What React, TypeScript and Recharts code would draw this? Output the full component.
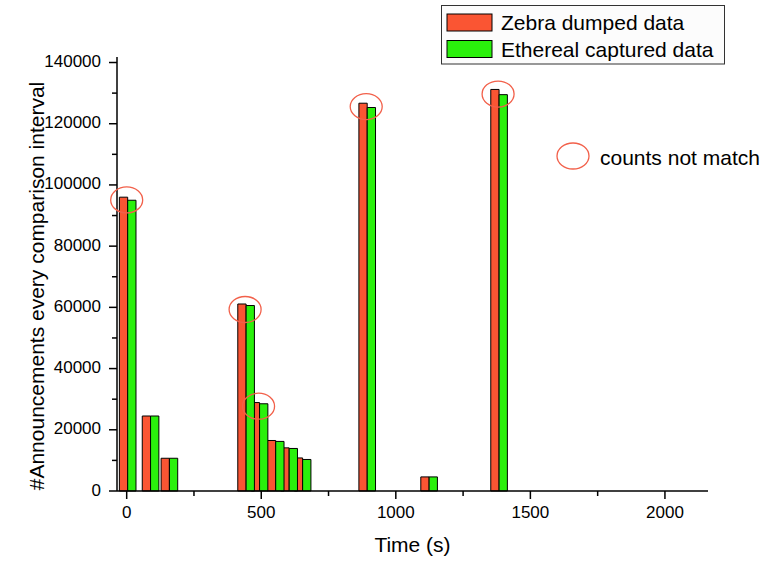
import React from 'react';
import { ComposedChart, Bar, Scatter, XAxis, YAxis, Legend } from 'recharts';

// ---- data ----
const times = [0, 85, 155, 440, 490, 550, 600, 650, 890, 1120, 1380];
const zebraCounts = [96000, 24500, 10700, 61100, 28900, 16500, 14100, 10800, 126700, 4600, 131200];
const etherealCounts = [95000, 24500, 10700, 60600, 28500, 16200, 13900, 10300, 125300, 4600, 129500];
const mismatchTimes = [0, 440, 490, 890, 1380];
const mismatchCounts = [95100, 59300, 27700, 125600, 129700];
const xTicks = [0, 250, 500, 750, 1000, 1250, 1500, 1750, 2000];
const yTicks = [0, 10000, 20000, 30000, 40000, 50000, 60000, 70000, 80000, 90000, 100000, 110000, 120000, 130000, 140000];
const seriesNames = ['Zebra dumped data', 'Ethereal captured data'];
const markerName = 'counts not match';

const data = times.map((t, i) => ({ t, zebra: zebraCounts[i], ethereal: etherealCounts[i] }));
const mismatch = mismatchTimes.map((t, i) => ({ t, v: mismatchCounts[i] }));

// ---- style ----
const FONT = '"Liberation Sans", Arial, Helvetica, sans-serif';
const RED = '#FA5533';
const GREEN = '#2AF00C';
const RING = '#F2604A';
const X_DOMAIN: [number, number] = [-36, 2160];
const Y_DOMAIN: [number, number] = [0, 141800];
const RED_SHIFT = 13.3;
const GREEN_SHIFT = -17.6;

const XTick = (props: any) => {
  const { x, y, payload } = props;
  const major = payload.value % 500 === 0;
  return (
    <g>
      <line x1={x} x2={x} y1={y} y2={y + (major ? 8 : 5)} stroke="#000" strokeWidth={1.5} />
      {major && (
        <text x={x} y={y + 27} textAnchor="middle" fontSize={17} fontFamily={FONT} fill="#000">
          {payload.value}
        </text>
      )}
    </g>
  );
};

const YTick = (props: any) => {
  const { x, y, payload } = props;
  const major = payload.value % 20000 === 0;
  return (
    <g>
      <line x1={x} x2={x - (major ? 8 : 5)} y1={y} y2={y} stroke="#000" strokeWidth={1.5} />
      {major && (
        <text x={x - 16} y={y + 4.5} textAnchor="end" fontSize={17} fontFamily={FONT} fill="#000">
          {payload.value}
        </text>
      )}
    </g>
  );
};

const Ring = (props: any) => {
  const { cx, cy } = props;
  if (cx == null || cy == null) return null;
  return <ellipse cx={cx} cy={cy} rx={16} ry={13} fill="none" stroke={RING} strokeWidth={1.3} />;
};

const LegendContent = (props: any) => {
  const payload: any[] = props.payload || [];
  const bars = seriesNames
    .map((n) => payload.find((p) => p.value === n))
    .filter((p) => p != null);
  const ring = payload.find((p) => p.value === markerName);
  return (
    <svg width={765} height={200} style={{ position: 'absolute', left: 0, top: 0, overflow: 'visible' }}>
      <rect x={441.5} y={5.5} width={283} height={58.5} fill="#FCFCFC" stroke="#333" strokeWidth={1} />
      {bars.map((p, i) => (
        <g key={p.value}>
          <rect x={447} y={14 + i * 26.5} width={45} height={17} fill={p.color} stroke="#000" strokeWidth={1} />
          <text x={501} y={29.5 + i * 27} fontSize={21} fontFamily={FONT} fill="#000">
            {p.value}
          </text>
        </g>
      ))}
      {ring && (
        <g>
          <ellipse cx={573} cy={156} rx={16} ry={13} fill="none" stroke={RING} strokeWidth={1.3} />
          <text x={600} y={165} fontSize={21} fontFamily={FONT} fill="#000">
            {ring.value}
          </text>
        </g>
      )}
    </svg>
  );
};

export default function App() {
  return (
    <div style={{ position: 'absolute', left: 0, top: 0, width: 765, height: 561, background: '#fff', fontFamily: FONT }}>
      <ComposedChart width={765} height={561} data={data} margin={{ top: 57, right: 57, bottom: 0, left: 0 }}>
        <XAxis
          xAxisId="main"
          type="number"
          dataKey="t"
          domain={X_DOMAIN}
          ticks={xTicks}
          interval={0}
          height={70}
          tickSize={0}
          tickMargin={0}
          tickLine={false}
          axisLine={{ stroke: '#000', strokeWidth: 1.5 }}
          tick={(p: any) => <XTick {...p} />}
          label={{ value: 'Time (s)', position: 'insideBottom', offset: 9, fontSize: 21, fill: '#000', fontFamily: FONT }}
        />
        <XAxis xAxisId="red" type="number" dataKey="t" hide orientation="top" height={0} domain={[X_DOMAIN[0] + RED_SHIFT, X_DOMAIN[1] + RED_SHIFT]} />
        <XAxis xAxisId="green" type="number" dataKey="t" hide orientation="top" height={0} domain={[X_DOMAIN[0] + GREEN_SHIFT, X_DOMAIN[1] + GREEN_SHIFT]} />
        <YAxis
          type="number"
          domain={Y_DOMAIN}
          ticks={yTicks}
          interval={0}
          width={117}
          tickSize={0}
          tickMargin={0}
          tickLine={false}
          axisLine={{ stroke: '#000', strokeWidth: 1.5 }}
          tick={(p: any) => <YTick {...p} />}
          label={{
            value: '#Announcements every comparison interval',
            angle: -90,
            position: 'insideLeft',
            offset: 37,
            dy: 12,
            fontSize: 21,
            fill: '#000',
            fontFamily: FONT,
            style: { textAnchor: 'middle' },
          }}
        />
        <Bar xAxisId="red" dataKey="zebra" name={seriesNames[0]} fill={RED} stroke="#000" strokeWidth={1} barSize={8.3} legendType="rect" isAnimationActive={false} />
        <Bar xAxisId="green" dataKey="ethereal" name={seriesNames[1]} fill={GREEN} stroke="#000" strokeWidth={1} barSize={8.3} legendType="rect" isAnimationActive={false} />
        <Scatter xAxisId="main" data={mismatch} dataKey="v" name={markerName} shape={(p: any) => <Ring {...p} />} legendType="circle" fill={RING} isAnimationActive={false} />
        <Legend
          layout="vertical"
          align="center"
          verticalAlign="middle"
          wrapperStyle={{ position: 'absolute', left: 0, top: 0, width: 765, height: 0 }}
          content={(p: any) => <LegendContent {...p} />}
        />
      </ComposedChart>
    </div>
  );
}
